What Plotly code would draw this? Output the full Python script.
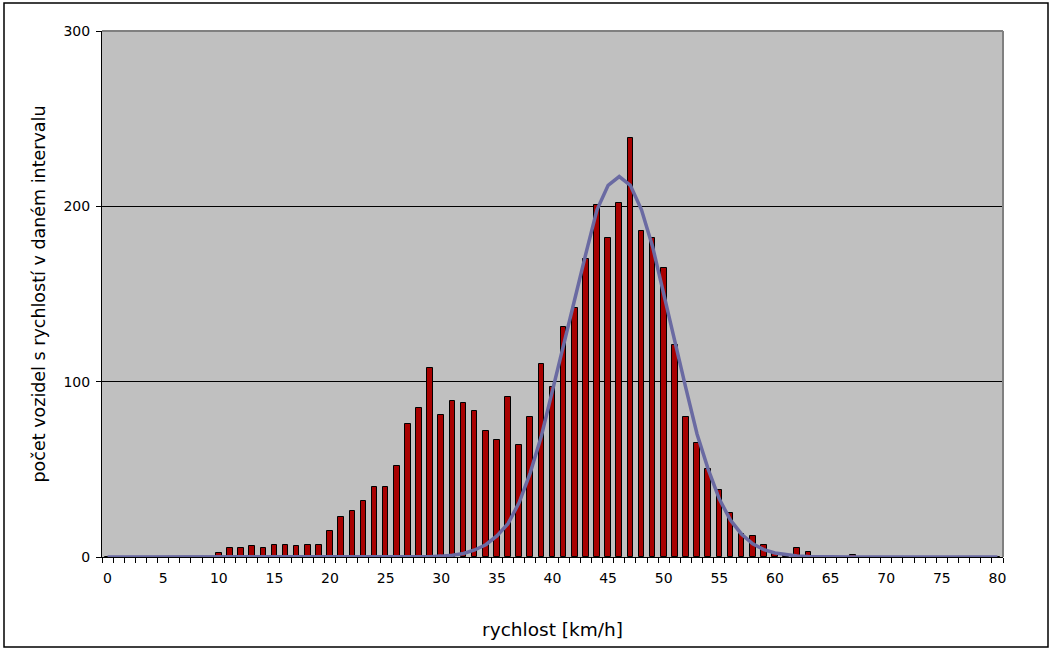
import plotly.graph_objects as go

# speed classes 0..80 km/h
speeds = list(range(81))

counts = [0, 0, 0, 0, 0, 0, 0, 0, 0, 0,
          2, 5, 5, 6, 5, 7, 7, 6, 7, 7,
          15, 23, 26, 32, 40, 40, 52, 76, 85, 108,
          81, 89, 88, 83, 72, 67, 91, 64, 80, 110,
          97, 131, 142, 170, 201, 182, 202, 239, 186, 182,
          165, 121, 80, 65, 50, 38, 25, 13, 12, 7,
          2, 1, 5, 3, 0, 0, 0, 1, 0, 0,
          0, 0, 0, 0, 0, 0, 0, 0, 0, 0, 0]

# fitted curve values
curve = [0, 0, 0, 0, 0, 0, 0, 0, 0, 0,
         0, 0, 0, 0, 0, 0, 0, 0, 0, 0,
         0, 0, 0, 0, 0, 0, 0, 0, 0.1, 0.2,
         0.5, 1, 2, 4, 7, 12, 19, 31, 48, 69,
         95, 122, 147, 173, 198, 212, 217, 212, 198, 177,
         151, 123, 96, 70, 50, 33, 21, 13, 7.5, 4.2,
         2.3, 1.2, 0.6, 0.3, 0.1, 0, 0, 0, 0, 0,
         0, 0, 0, 0, 0, 0, 0, 0, 0, 0, 0]

x_ticks = list(range(0, 81, 5))
y_ticks = [0, 100, 200, 300]

FONT = "Verdana, DejaVu Sans, sans-serif"

fig = go.Figure()
fig.add_trace(go.Bar(
    x=speeds, y=counts, width=0.5,
    marker=dict(color="#A80000", line=dict(color="#000000", width=1)),
    showlegend=False,
))
fig.add_trace(go.Scatter(
    x=speeds, y=curve, mode="lines",
    line=dict(color="#6A6AA2", width=3.5),
    showlegend=False, cliponaxis=False,
))

# plot area: x 102..1003, y 31..557
L, R, T, B = 102, 1053 - 1003, 31, 652 - 557
pw, ph = 1053 - L - R, 652 - T - B

def px(xp):
    return (xp - L) / pw

def py(yp):
    return (652 - B - yp) / ph

fig.update_layout(
    width=1053, height=652,
    margin=dict(l=L, r=R, t=T, b=B, pad=0),
    paper_bgcolor="white",
    plot_bgcolor="#C0C0C0",
    bargap=0,
    font=dict(family=FONT, color="#000000", size=13),
    xaxis=dict(
        range=[-0.5, 80.5],
        tickmode="array", tickvals=x_ticks, ticktext=[str(v) for v in x_ticks],
        ticks="", showgrid=False, zeroline=False,
        showline=True, linecolor="#000000", linewidth=1,
        tickfont=dict(size=14, family=FONT),
        ticklabelstandoff=8,
        minor=dict(tickmode="linear", tick0=0.5, dtick=1, ticks="outside",
                   ticklen=5, tickcolor="#000000", tickwidth=1, showgrid=False),
        title=dict(text="rychlost [km/h]", font=dict(size=18.5, family=FONT), standoff=38),
    ),
    yaxis=dict(
        range=[0, 300],
        tickmode="array", tickvals=y_ticks,
        ticks="outside", ticklen=5, tickcolor="#000000",
        showgrid=True, gridcolor="#000000", gridwidth=1,
        zeroline=False,
        showline=True, linecolor="#000000", linewidth=1,
        tickfont=dict(size=14, family=FONT),
        ticklabelstandoff=3,
        title=dict(text="počet vozidel s rychlostí v daném intervalu",
                   font=dict(size=17.5, family=FONT), standoff=13),
    ),
    shapes=[
        dict(type="line", xref="paper", yref="paper", x0=0, x1=1, y0=1, y1=1,
             line=dict(color="#808080", width=2)),
        dict(type="line", xref="paper", yref="paper", x0=1, x1=1, y0=0, y1=1,
             line=dict(color="#808080", width=2)),
        dict(type="rect", xref="paper", yref="paper",
             x0=px(4), x1=px(1048), y0=py(647), y1=py(3),
             line=dict(color="#000000", width=1.5), fillcolor="rgba(0,0,0,0)"),
    ],
)

fig.write_html("out.html")
